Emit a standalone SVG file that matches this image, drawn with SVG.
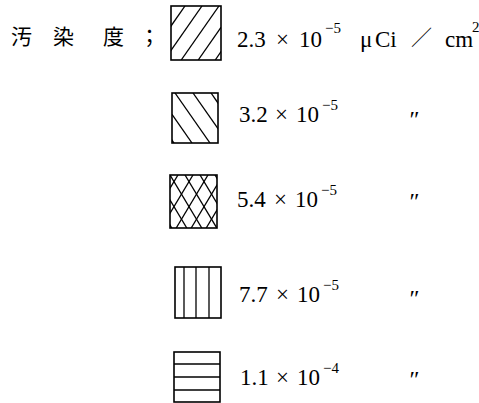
<svg xmlns="http://www.w3.org/2000/svg" width="479" height="403" viewBox="0 0 479 403">
<style>
.box{fill:none;stroke:#000;stroke-width:1.6}
.h{stroke:#000;stroke-width:1.3;fill:none}
.t{font-family:"Liberation Serif","Times New Roman",serif;font-size:23px;fill:#000}
.s{font-family:"Liberation Serif","Times New Roman",serif;font-size:15px;fill:#000}
.cjk{font-family:"Noto Sans CJK JP","Noto Sans CJK SC",sans-serif;font-size:21px;fill:#000}
.d{font-family:"Liberation Serif","Times New Roman",serif;font-size:24px;font-style:italic;fill:#000}
</style>
<defs>
<clipPath id="c1"><rect x="171" y="6" width="50" height="54"/></clipPath>
<clipPath id="c2"><rect x="172" y="93" width="46" height="50"/></clipPath>
<clipPath id="c3"><rect x="170" y="175" width="47" height="53"/></clipPath>
</defs>
<g id="title">
<text class="cjk" x="11" y="44">汚</text>
<text class="cjk" x="53" y="44">染</text>
<text class="cjk" x="103" y="44">度</text>
<text class="cjk" x="139" y="44">；</text>
</g>
<g id="item1">
<g clip-path="url(#c1)" class="h">
<line x1="185" y1="6" x2="147.2" y2="60"/>
<line x1="202" y1="6" x2="164.2" y2="60"/>
<line x1="219" y1="6" x2="181.2" y2="60"/>
<line x1="236" y1="6" x2="198.2" y2="60"/>
<line x1="253" y1="6" x2="215.2" y2="60"/>
</g>
<rect class="box" x="171" y="6" width="50" height="54"/>
<text class="t" x="237" y="47">2.3</text>
<text class="t" x="276" y="47">×</text>
<text class="t" x="299" y="47">10</text>
<text class="s" x="325" y="33">−5</text>
<text class="t" x="360" y="47">μ</text>
<text class="t" x="375" y="47">Ci</text>
<text class="cjk" x="411" y="45">／</text>
<text class="t" x="445" y="47">cm</text>
<text class="s" x="472" y="32">2</text>
</g>
<g id="item2">
<g clip-path="url(#c2)" class="h">
<line x1="139" y1="93" x2="174" y2="143"/>
<line x1="157" y1="93" x2="192" y2="143"/>
<line x1="175" y1="93" x2="210" y2="143"/>
<line x1="193" y1="93" x2="228" y2="143"/>
<line x1="211" y1="93" x2="246" y2="143"/>
</g>
<rect class="box" x="172" y="93" width="46" height="50"/>
<text class="t" x="239" y="122">3.2</text>
<text class="t" x="275" y="122">×</text>
<text class="t" x="296" y="122">10</text>
<text class="s" x="322" y="110">−5</text>
<text class="d" x="408" y="127">″</text>
</g>
<g id="item3">
<g clip-path="url(#c3)" class="h">
<line x1="178" y1="175" x2="146.2" y2="228"/>
<line x1="193" y1="175" x2="161.2" y2="228"/>
<line x1="208" y1="175" x2="176.2" y2="228"/>
<line x1="223" y1="175" x2="191.2" y2="228"/>
<line x1="238" y1="175" x2="206.2" y2="228"/>
<line x1="253" y1="175" x2="221.2" y2="228"/>
<line x1="140" y1="175" x2="171.8" y2="228"/>
<line x1="155" y1="175" x2="186.8" y2="228"/>
<line x1="170" y1="175" x2="201.8" y2="228"/>
<line x1="185" y1="175" x2="216.8" y2="228"/>
<line x1="200" y1="175" x2="231.8" y2="228"/>
<line x1="215" y1="175" x2="246.8" y2="228"/>
</g>
<rect class="box" x="170" y="175" width="47" height="53"/>
<text class="t" x="237" y="207">5.4</text>
<text class="t" x="274" y="207">×</text>
<text class="t" x="295" y="207">10</text>
<text class="s" x="321" y="195">−5</text>
<text class="d" x="408" y="209">″</text>
</g>
<g id="item4">
<g class="h">
<line x1="184" y1="267" x2="184" y2="318"/>
<line x1="196" y1="267" x2="196" y2="318"/>
<line x1="209" y1="267" x2="209" y2="318"/>
</g>
<rect class="box" x="175" y="267" width="46" height="51"/>
<text class="t" x="239" y="302">7.7</text>
<text class="t" x="276" y="302">×</text>
<text class="t" x="297" y="302">10</text>
<text class="s" x="323" y="290">−5</text>
<text class="d" x="408" y="306">″</text>
</g>
<g id="item5">
<g class="h">
<line x1="174" y1="364" x2="220" y2="364"/>
<line x1="174" y1="377" x2="220" y2="377"/>
<line x1="174" y1="390" x2="220" y2="390"/>
</g>
<rect class="box" x="174" y="352" width="46" height="50"/>
<text class="t" x="240" y="385">1.1</text>
<text class="t" x="276" y="385">×</text>
<text class="t" x="297" y="385">10</text>
<text class="s" x="323" y="373">−4</text>
<text class="d" x="408" y="387">″</text>
</g>
</svg>
